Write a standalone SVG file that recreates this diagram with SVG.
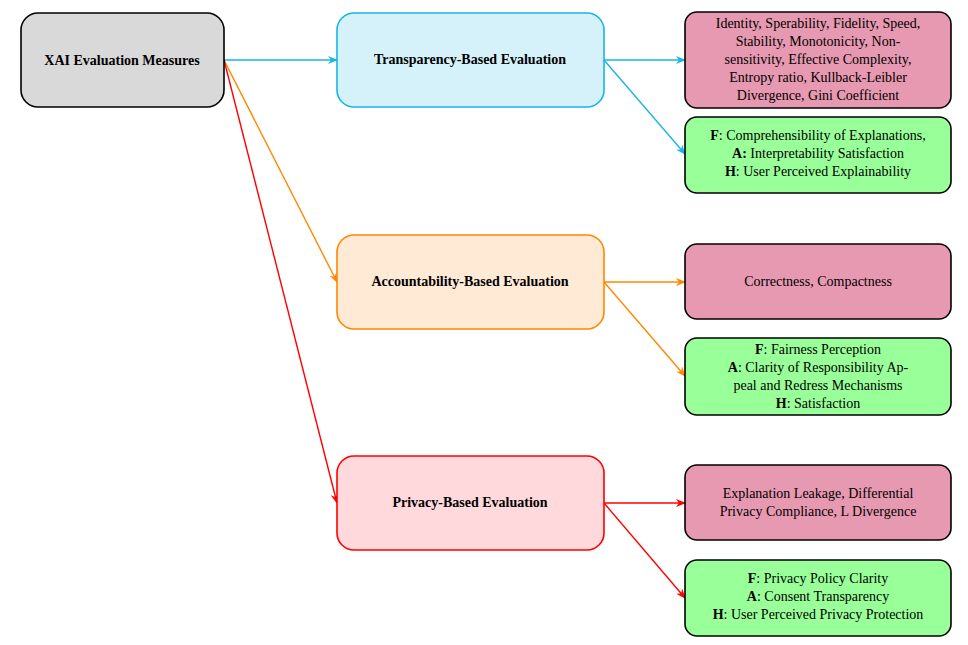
<svg xmlns="http://www.w3.org/2000/svg" width="968" height="645" viewBox="0 0 968 645">
<style>
text{font-family:"Liberation Serif","Times New Roman",serif;font-size:14px;fill:#000;text-anchor:middle}
.b{font-weight:bold}
.n{stroke-width:1.6}
.pk{fill:#e699b0;stroke:#000}
.gr{fill:#99ff99;stroke:#000}
.c{fill:none;stroke-width:1.4}
</style>
<defs>
<marker id="mc" markerWidth="10" markerHeight="8" refX="9" refY="4" orient="auto" markerUnits="userSpaceOnUse"><path d="M0,0 L10,4 L0,8 L3,4 Z" fill="#1ab4e6"/></marker>
<marker id="mo" markerWidth="10" markerHeight="8" refX="9" refY="4" orient="auto" markerUnits="userSpaceOnUse"><path d="M0,0 L10,4 L0,8 L3,4 Z" fill="#ff8800"/></marker>
<marker id="mr" markerWidth="10" markerHeight="8" refX="9" refY="4" orient="auto" markerUnits="userSpaceOnUse"><path d="M0,0 L10,4 L0,8 L3,4 Z" fill="#ff0000"/></marker>
</defs>
<g id="connectors">
<path class="c" stroke="#1ab4e6" marker-end="url(#mc)" d="M224,60 L337,60"/>
<path class="c" stroke="#ff8800" marker-end="url(#mo)" d="M224,60 L337,282"/>
<path class="c" stroke="#ff0000" marker-end="url(#mr)" d="M224,60 L337,503"/>
<path class="c" stroke="#1ab4e6" marker-end="url(#mc)" d="M604,60 L685,60"/>
<path class="c" stroke="#1ab4e6" marker-end="url(#mc)" d="M604,60 L685,154"/>
<path class="c" stroke="#ff8800" marker-end="url(#mo)" d="M604,282 L685,282"/>
<path class="c" stroke="#ff8800" marker-end="url(#mo)" d="M604,282 L685,376"/>
<path class="c" stroke="#ff0000" marker-end="url(#mr)" d="M604,503 L685,503"/>
<path class="c" stroke="#ff0000" marker-end="url(#mr)" d="M604,503 L685,598"/>
</g>
<g id="root"><rect class="n" x="21" y="13" width="203" height="94" rx="17" fill="#d9d9d9" stroke="#000"/><text class="b" x="122" y="65">XAI Evaluation Measures</text></g>
<g id="transparency"><rect class="n" x="337" y="13" width="267" height="94" rx="17" fill="#d5f2fa" stroke="#1ab4e6"/><text class="b" x="470" y="64">Transparency-Based Evaluation</text></g>
<g id="accountability"><rect class="n" x="337" y="235" width="267" height="94" rx="17" fill="#ffead6" stroke="#ff8800"/><text class="b" x="470" y="286">Accountability-Based Evaluation</text></g>
<g id="privacy"><rect class="n" x="337" y="456" width="267" height="94" rx="17" fill="#ffd9dc" stroke="#ff0000"/><text class="b" x="470" y="507">Privacy-Based Evaluation</text></g>
<g id="t1"><rect class="n pk" x="685" y="12" width="266" height="96" rx="12"/>
<text x="818" y="28">Identity, Sperability, Fidelity, Speed,</text>
<text x="818" y="46">Stability, Monotonicity, Non-</text>
<text x="818" y="64">sensitivity, Effective Complexity,</text>
<text x="818" y="82">Entropy ratio, Kullback-Leibler</text>
<text x="818" y="100">Divergence, Gini Coefficient</text></g>
<g id="t2"><rect class="n gr" x="685" y="117" width="266" height="76" rx="12"/>
<text x="818" y="140"><tspan class="b">F</tspan>: Comprehensibility of Explanations,</text>
<text x="818" y="158"><tspan class="b">A:</tspan> Interpretability Satisfaction</text>
<text x="818" y="176"><tspan class="b">H</tspan>: User Perceived Explainability</text></g>
<g id="a1"><rect class="n pk" x="685" y="244" width="266" height="75" rx="12"/>
<text x="818" y="286">Correctness, Compactness</text></g>
<g id="a2"><rect class="n gr" x="685" y="338" width="266" height="77" rx="12"/>
<text x="818" y="354"><tspan class="b">F</tspan>: Fairness Perception</text>
<text x="818" y="372"><tspan class="b">A</tspan>: Clarity of Responsibility Ap-</text>
<text x="818" y="390">peal and Redress Mechanisms</text>
<text x="818" y="408"><tspan class="b">H</tspan>: Satisfaction</text></g>
<g id="p1"><rect class="n pk" x="685" y="465" width="266" height="75" rx="12"/>
<text x="818" y="498">Explanation Leakage, Differential</text>
<text x="818" y="516">Privacy Compliance, L Divergence</text></g>
<g id="p2"><rect class="n gr" x="685" y="560" width="266" height="76" rx="12"/>
<text x="818" y="583"><tspan class="b">F</tspan>: Privacy Policy Clarity</text>
<text x="818" y="601"><tspan class="b">A</tspan>: Consent Transparency</text>
<text x="818" y="619"><tspan class="b">H</tspan>: User Perceived Privacy Protection</text></g>
</svg>
